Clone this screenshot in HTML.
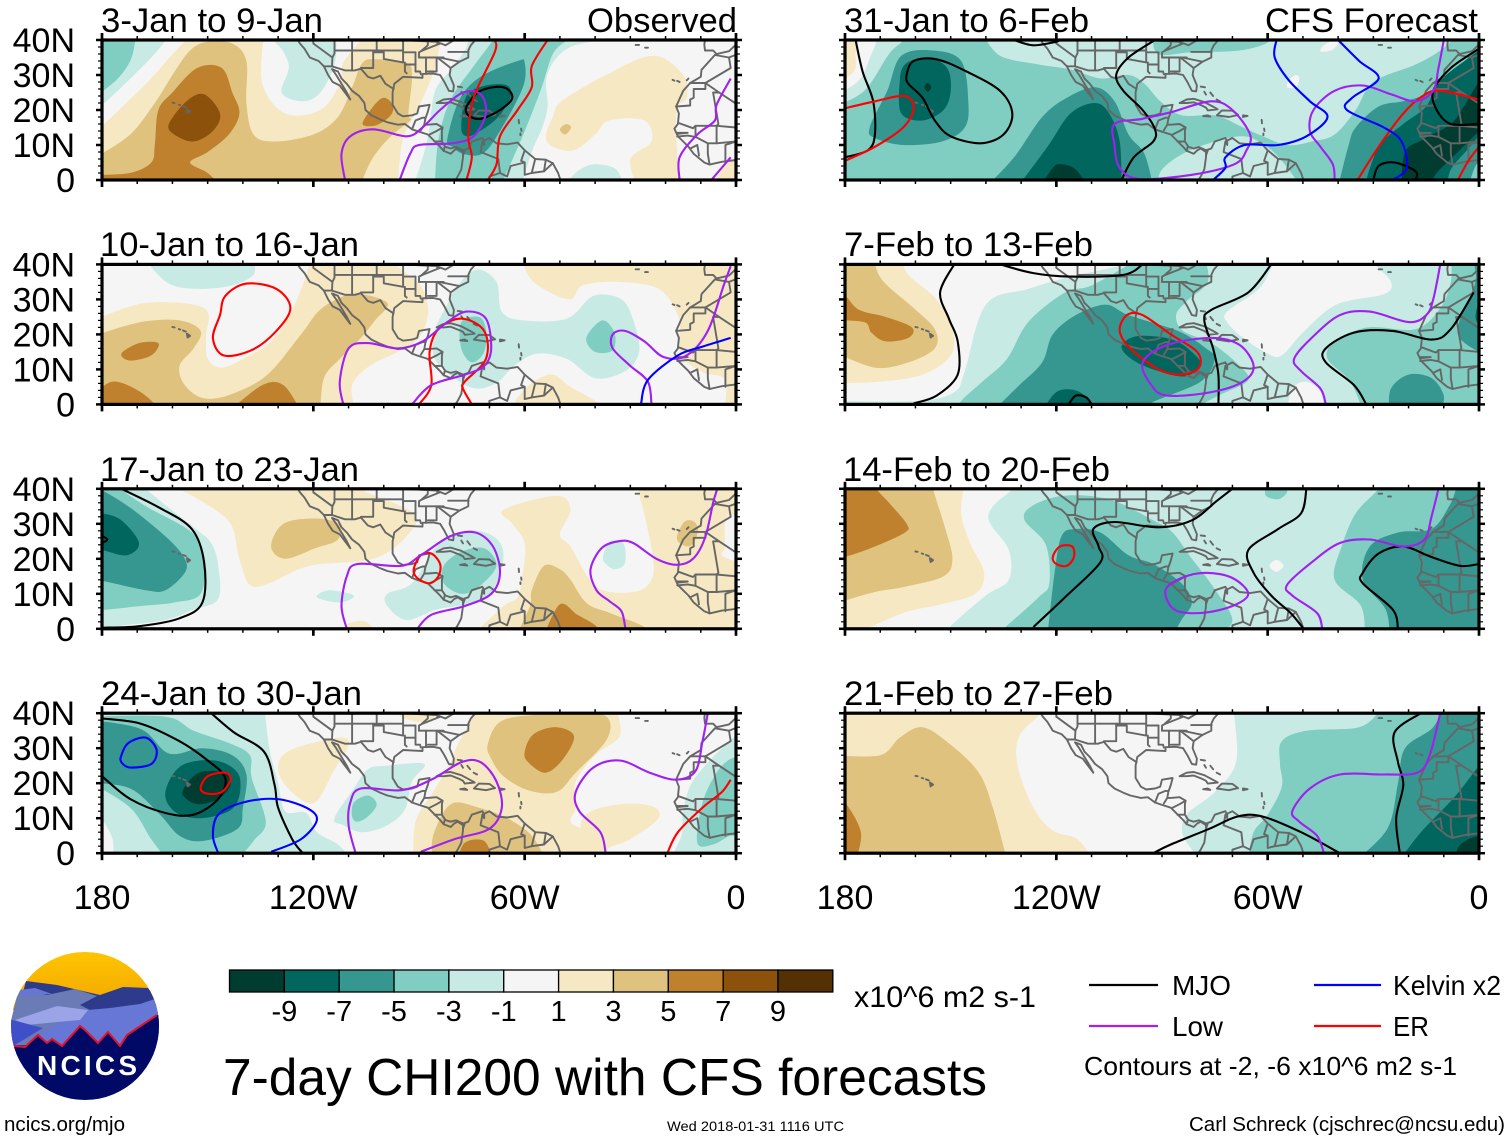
<!DOCTYPE html>
<html lang="en">
<head>
<meta charset="utf-8">
<title>7-day CHI200 with CFS forecasts</title>
<style>
html,body{margin:0;padding:0;background:#fff;}
svg{display:block;font-family:"Liberation Sans",sans-serif;fill:#000;}
</style>
</head>
<body>
<svg id="figure" xmlns="http://www.w3.org/2000/svg" width="1510" height="1141" viewBox="0 0 1510 1141">
  <rect width="1510" height="1141" fill="#fff"/>
  <g id="panels"></g>

  <text x="101" y="32" font-size="34.5" textLength="222" lengthAdjust="spacingAndGlyphs">3-Jan to 9-Jan</text>
  <text x="587" y="32" font-size="34.5" textLength="150" lengthAdjust="spacingAndGlyphs">Observed</text>
  <text x="100" y="256" font-size="34.5" textLength="259" lengthAdjust="spacingAndGlyphs">10-Jan to 16-Jan</text>
  <text x="100" y="481" font-size="34.5" textLength="259" lengthAdjust="spacingAndGlyphs">17-Jan to 23-Jan</text>
  <text x="101" y="705" font-size="34.5" textLength="261" lengthAdjust="spacingAndGlyphs">24-Jan to 30-Jan</text>
  <text x="844" y="32" font-size="34.5" textLength="245" lengthAdjust="spacingAndGlyphs">31-Jan to 6-Feb</text>
  <text x="1265" y="32" font-size="34.5" textLength="213" lengthAdjust="spacingAndGlyphs">CFS Forecast</text>
  <text x="844" y="256" font-size="34.5" textLength="249" lengthAdjust="spacingAndGlyphs">7-Feb to 13-Feb</text>
  <text x="843" y="481" font-size="34.5" textLength="267" lengthAdjust="spacingAndGlyphs">14-Feb to 20-Feb</text>
  <text x="844" y="705" font-size="34.5" textLength="269" lengthAdjust="spacingAndGlyphs">21-Feb to 27-Feb</text>

  <g id="colorbar"></g>
  <text x="854" y="1007" font-size="30" textLength="182" lengthAdjust="spacingAndGlyphs">x10^6 m2 s-1</text>

  <text x="223" y="1095" font-size="51.5" textLength="764" lengthAdjust="spacingAndGlyphs">7-day CHI200 with CFS forecasts</text>

  <g>
    <line x1="1089" x2="1158" y1="985" y2="985" stroke="#000" stroke-width="2.2"/>
    <text x="1172" y="995" font-size="28" textLength="59" lengthAdjust="spacingAndGlyphs">MJO</text>
    <line x1="1089" x2="1158" y1="1026" y2="1026" stroke="#a020f0" stroke-width="2.2"/>
    <text x="1172" y="1036" font-size="28" textLength="51" lengthAdjust="spacingAndGlyphs">Low</text>
    <line x1="1314" x2="1381" y1="985" y2="985" stroke="#0000ff" stroke-width="2.2"/>
    <text x="1393" y="995" font-size="28" textLength="108" lengthAdjust="spacingAndGlyphs">Kelvin x2</text>
    <line x1="1314" x2="1381" y1="1026" y2="1026" stroke="#ff0000" stroke-width="2.2"/>
    <text x="1393" y="1036" font-size="28" textLength="36" lengthAdjust="spacingAndGlyphs">ER</text>
    <text x="1084" y="1075" font-size="26" textLength="373" lengthAdjust="spacingAndGlyphs">Contours at -2, -6 x10^6 m2 s-1</text>
  </g>

  <g>
    <defs>
      <clipPath id="logoClip"><circle cx="85" cy="1026" r="74"/></clipPath>
      <linearGradient id="sunGrad" x1="0" y1="0" x2="0" y2="1"><stop offset="0" stop-color="#ffc600"/><stop offset="1" stop-color="#f2a500"/></linearGradient>
    </defs>
    <g clip-path="url(#logoClip)">
      <rect x="10" y="950" width="150" height="60" fill="url(#sunGrad)"/>
      <path d="M26,981 L57,985 L100,995 L123,987 L148,988 L165,1010 L165,1060 L5,1060 Z" fill="#2e3a8c"/>
      <path d="M18,992 L47,995 L75,989 L97,996 L80,1005 L90,1010 L60,1045 L5,1045 Z" fill="#6b7bb5"/>
      <path d="M19,990 L35,988 L52,994 L20,996 Z" fill="#6676d2"/>
      <path d="M88,1010 L110,1008 L140,1004 L158,998 L165,1060 L10,1060 L45,1030 Z" fill="#6777d6"/>
      <path d="M15,1020 L57,1006 L88,1010 L80,1020 L57,1022 L27,1025 Z" fill="#9aa4e6"/>
      <path d="M5,1018 L43,1028 L10,1048 Z" fill="#3f4fc8"/>
      <path d="M13,1046 L25,1047 L38,1035 L47,1043 L52,1039 L62,1046 L80,1026 L85,1030 L98,1043 L108,1032 L120,1046 L127,1035 L157,1015 L165,1015 L165,1105 L5,1105 L5,1046 Z" fill="#000a66"/>
      <path d="M13,1046 L25,1047 L38,1035 L47,1043 L52,1039 L62,1046 L80,1026 L85,1030 L98,1043 L108,1032 L120,1046 L127,1035 L157,1015" fill="none" stroke="#e8102a" stroke-width="2"/>
    </g>
    <text x="37" y="1075" font-size="28" font-weight="bold" fill="#fff" textLength="100" lengthAdjust="spacing" style="fill:#fff">NCICS</text>
  </g>

  <text x="4" y="1131" font-size="20.5" textLength="121" lengthAdjust="spacingAndGlyphs">ncics.org/mjo</text>
  <text x="667" y="1131" font-size="14" textLength="177" lengthAdjust="spacingAndGlyphs">Wed 2018-01-31 1116 UTC</text>
  <text x="1189" y="1131" font-size="20.5" textLength="316" lengthAdjust="spacingAndGlyphs">Carl Schreck (cjschrec@ncsu.edu)</text>
</svg>

<script>
// ---------- scale definition ----------
const levelBounds = [-9,-7,-5,-3,-1,1,3,5,7,9];
const levelColors = ['#003c30','#01665e','#35978f','#80cdc1','#c7eae5','#f5f5f5','#f6e8c3','#dfc27d','#bf812d','#8c510a','#543005'];
const latTicks = [40,30,20,10,0];
const latTickLabels = ['40N','30N','20N','10N','0'];
const lonTicks = [180,120,60,0];
const lonTickLabels = ['180','120W','60W','0'];
const colorbarLabels = ['-9','-7','-5','-3','-1','1','3','5','7','9'];

// ---------- filled anomaly regions: [anomaly value, [[deg west, deg north], ...]] ----------
const fills3Jan = [
 [-2,[[183,18.5],[174.5,26.5],[166,35],[161,41],[161,44],[184,44]]],
 [-4,[[183,23],[176,28.5],[172,34],[170.5,40],[170,44],[184,44]]],
 [2,[[181,14.5],[167.5,27.5],[158,38],[154,40],[134,41],[134.5,27.5],[128,19],[118,20],[112.5,27.5],[111.5,33.5],[106.5,40],[105,42],[84,42],[84,39],[86,30.5],[90,21],[94.5,12],[96,0],[97,-2],[181.5,-2]]],
 [-2,[[143,41],[132,40],[127,33],[129,25],[123,22.5],[118,25],[114,33],[113.5,41]]],
 [2,[[52,18],[49.5,22.5],[37,30],[23.5,35.5],[15,30],[14,23.5],[17,19],[16,-2],[28,-2],[30,6],[24,11],[26,17],[36,17],[40,13],[46,8.5],[52,9.5],[54,12.5]]],
 [2,[[6,-2],[3,5],[-2,6],[-2,-2]]],
 [4,[[181,7],[172,13],[165,22],[160,30],[155,37],[150,39.5],[143,39],[139,34],[139,22],[137,13],[131,11],[120,13],[113,18],[109,26.5],[106,33.5],[102,34.5],[93.5,33.5],[92,29.5],[93,19],[92.5,17],[98,12.5],[103,6.5],[106,0],[106,-2],[182,-2]]],
 [6,[[181,1.5],[172,2],[166,5],[165,10],[164,20],[160,25],[153,32],[146,32],[143,25],[141,19],[144,13],[150,8],[155,5],[150,2],[146,-2],[182,-2]]],
 [8,[[161,16],[156,22.5],[151,24.5],[146.5,19],[148.5,14],[154,11],[159.5,13]]],
 [6,[[106,16],[103,21],[100,23.5],[97.5,21.5],[98,18.5],[102,15.7]]],
 [4,[[50,14.5],[48.2,16],[46.8,15],[48.5,13]]],
 [-2,[[76,42],[76.5,38],[80.5,32],[85,26.5],[86.5,20],[87,15],[88.5,8],[91,0],[92,-2],[61,-2],[58,8],[55,15],[53.5,21],[53.5,30.5],[47,38],[33,40.5],[30,42]]],
 [-2,[[49,-2],[45,2.5],[40,4.5],[34,3],[32,-2]]],
 [-4,[[69,42],[69,40],[74.5,32.5],[81,23],[84.5,11.5],[85.5,-2],[67,-2],[61,11.5],[55.5,25.5],[52,36],[48,40],[47,42]]],
 [-6,[[82,11.5],[78.5,23],[72.5,29.5],[62,34],[60,33.5],[60.5,26.5],[67,14],[72,7.5],[77.5,7.5],[80.5,9.5]]],
 [-8,[[78,15],[76.5,24],[71,27],[65,27],[64,23.5],[68,17.5],[73.5,13.5],[76.5,12.5]]]
];
const fills10Jan = [
 [2,[[181,24.5],[167.5,29],[151,27.5],[150.5,19],[150,13],[146,10.5],[139,13.5],[132,18],[126.5,26],[122.5,35.5],[121,41],[100,42],[90.5,35],[88,30],[87.5,25.5],[90,19],[96,15],[104,11],[109,5.5],[108,-2],[182,-2]]],
 [2,[[61,42],[57.5,35],[47.5,30],[43.5,34],[33.5,35],[22,33],[16.5,25.5],[16,19],[15,13],[9,9],[3,7],[3.5,-2],[-2,-2],[-2,42]]],
 [2,[[64,-2],[62,2],[57.5,6.5],[52,8.5],[47,5],[40,1],[37,-2]]],
 [4,[[181,20],[169,23.5],[158,24],[152,21],[154,16],[158,11],[156.5,5.5],[151,1.7],[143,3],[133,8.5],[123.5,20],[117.5,27.5],[108.5,31.5],[99,29],[102.5,24],[106.5,19],[112.5,13],[117,7.5],[118,-2],[181,-2]]],
 [6,[[174.5,14.5],[169.5,17.5],[164,17.5],[166,14],[172,12.5]]],
 [6,[[183,-2],[183,2],[177,6.5],[169,3.5],[163,-2]]],
 [6,[[144,-2],[134.5,5.5],[128.5,5.5],[123.5,-2]]],
 [-2,[[167.5,41],[161,34.5],[152.5,33],[143,34],[137,37],[137,41]]],
 [-2,[[73.5,38.5],[68,35],[66.5,26.5],[60.5,24],[48,24.5],[40.5,31],[32.5,30],[29,23.5],[27.5,15],[31.5,9.5],[40,7.5],[48,13],[56.5,14.5],[63,11],[67.5,6.5],[73,4.5],[78.5,6.5],[85.5,13],[85.5,21],[82,28.5],[79,34]]],
 [-4,[[42.5,19],[38,24],[34.5,20.5],[35,15.5],[40,15]]],
 [-4,[[78,23.5],[73,25],[71,21.5],[71.5,15],[75,12],[78,16]]]
];
const fills17Jan = [
 [2,[[162,42],[151,36],[143.5,30],[141,20],[138,12.5],[132.5,13],[121,18],[103,20],[93.5,26.5],[91.5,33],[106,39.5],[108.5,42]]],
 [2,[[112,-2],[110,1.5],[105,2],[102,-2]]],
 [4,[[132,23.5],[128.5,30],[119.5,31.5],[113,30],[113,25.5],[119.5,23],[128,20]]],
 [2,[[66,34],[51,38],[47,34],[50,27],[47,23.5],[41.5,14],[36.8,10.7],[28,10.7],[24,14],[23.5,19.7],[25.4,30],[27.8,40],[27.8,43],[-2,43],[-2,-2],[75,-2],[66,6.5],[62,9],[60.5,16],[60,24.5],[63.5,30]]],
 [0,[[2.7,32],[3.2,23.5],[4,21],[0,19.2],[-2,19],[-2,32]]],
 [4,[[62.5,-2],[58.5,6.5],[58,11],[54.5,18],[50,17],[47,14],[42.4,7.3],[35.8,4.5],[26.3,0.7],[26,-2]]],
 [6,[[54.5,-2],[50,7],[45,4],[39.6,0.7],[39.5,-2]]],
 [4,[[16.5,27.3],[14.5,30.7],[12,30.7],[10.8,28.3],[12,24.5],[14,23.5],[16.5,25]]],
 [-2,[[37.7,21],[35.8,25],[32,24.5],[31.5,18.8],[34.4,17],[37.2,18.8]]],
 [-2,[[99,10],[92,13],[85,23.5],[77,28],[69,26.5],[66,21],[69,11],[74,7.5],[85,5.5],[93.5,2.5],[99,6.5]]],
 [-4,[[83,18],[78,22],[71.5,23],[68,18],[73,12],[78,10],[83,13]]],
 [-2,[[119,9],[115.5,11],[108.5,9.5],[112.5,7.5]]],
 [-2,[[183,-1],[175,0.8],[162,2.5],[154,5.5],[147,8.5],[147,18],[149,24.5],[154,29],[167.5,40],[168,43],[184,43]]],
 [-4,[[183,5],[169,6.5],[159.5,7.5],[152,10],[151,20],[154.5,27.5],[167.5,35],[174.5,40],[175,43],[184,43]]],
 [-6,[[183,14],[179,13.5],[167.5,11],[162,11],[156.5,16],[156.5,20],[161,25.5],[170.5,33.5],[178,38.5],[183,41]]],
 [-8,[[183,33],[180,33],[174.5,31],[169.5,24.5],[173,21],[180,22.5],[183,22.5]]]
];
const fills24Jan = [
 [-2,[[134,43],[132.5,30],[130,20],[128,12],[122,11.5],[119,6],[113,2.5],[109,-2],[184,-2],[184,43]]],
 [0,[[183,11],[180,9.5],[177,4],[177,-2],[183,-2]]],
 [-2,[[114,10],[108.5,18.5],[104.5,24],[99,25],[88.5,25.5],[92,20.5],[94,12.5],[99,8],[106,6],[111.5,8]]],
 [-4,[[109,10.5],[108.5,14.5],[104.5,16.5],[102,14],[104.5,10.5],[107.5,9]]],
 [-4,[[183,20],[172,13],[166,4],[161.5,-2],[141.5,-2],[137,3.5],[133.5,9],[137.5,21.5],[138,28],[144,31.5],[154,35],[162,39],[183,39]]],
 [-6,[[183,38],[169,35.5],[161,28.5],[151.5,30],[143,28],[139,22.5],[140,13],[141.5,7],[151.5,3.5],[158,5],[163.5,11],[172,18.5],[183,20]]],
 [-8,[[162,17.5],[157.5,25],[148,26.5],[141.5,23],[141,16.5],[144,12],[152.5,10],[159.5,12]]],
 [-10,[[157,18],[152.5,23],[145,23],[143.5,19.5],[147,15.5],[152.5,14],[156,15.5]]],
 [-2,[[19,-2],[15.5,5],[15,12],[12,21],[2,32],[-2,34],[-2,-2]]],
 [-4,[[11,3],[9.5,14.5],[5.5,23],[1.5,27],[-2,27],[-2,4],[1.5,5],[6.5,2.5]]],
 [2,[[34,41],[33,33.5],[40,28],[45.5,20.5],[45.5,13],[47,9],[43,6],[38.5,-2],[91.5,-2],[91,9],[86,17.5],[81,26],[79,31],[73.5,41]]],
 [2,[[42,11.5],[33,14],[24,13.5],[22,10],[30,4],[36,1.5],[38.5,-2],[44,6]]],
 [2,[[130,25],[126.5,29.5],[113,33],[110,31],[114.5,23],[118.5,15.5],[122,14.5],[128,19.5]]],
 [2,[[96,41],[95,39],[90,37.5],[86,38.5],[85,41]]],
 [4,[[70.5,31],[67,37.5],[57.5,39.5],[41,40],[36,38],[37,32],[45.5,23],[51,17.5],[59,18],[66,22],[69.5,27]]],
 [6,[[60,29],[57.5,34],[51,36],[46,33.5],[49,27],[54,23],[59,26]]],
 [4,[[86,5],[81,14],[73,13],[65,10],[58,5],[54,-2],[86,-2]]],
 [6,[[79,-2],[77,3],[71.5,3.5],[69,-2]]]
];
const fills31Jan = [
 [-2,[[183,21],[174.5,25.5],[167.5,36],[163.5,40],[163,44],[184,44]]],
 [0,[[183,24],[176,28.5],[172.5,36],[171,40],[171,44],[184,44]]],
 [2,[[183,27],[177.5,31],[177,36],[176.5,41],[176.5,44],[184,44]]],
 [-6,[[173,15],[168,25.5],[164,35.5],[155,37],[147,34],[145,22.5],[146,15],[152.5,11],[163.5,10],[171.5,12]]],
 [-8,[[164,19],[164.5,27.5],[163,33],[156.5,35],[151,32],[150,25.5],[152,20],[158,17]]],
 [-10,[[156.5,25.2],[155.5,26.5],[156.5,27.7],[157.5,26.5]]],
 [-2,[[141,42],[136,35.5],[125,33],[115.5,31.5],[107.5,29],[99.5,30],[95,27.5],[90.5,22.5],[84.5,18.5],[75,18.5],[68,15.5],[62.5,13],[54.5,10],[47.5,11],[41,13],[35,20],[30,28],[18,33],[11,37],[5.5,42]]],
 [-4,[[91.2,36],[81.6,36.5],[68,37],[60,39.3],[60,42],[92.5,42]]],
 [-2,[[91,-2],[90,3],[82,8.5],[68,12.5],[61,10],[56,5.5],[50.5,-2]]],
 [0,[[45,36.8],[42,37],[40,39],[41,40],[44,38.5]]],
 [0,[[54.5,26.5],[52,26.5],[51,29],[52,30],[54,28.5]]],
 [-6,[[140,-2],[132,6.5],[124,18],[117,23.5],[109,26.5],[103.5,22.5],[99.5,13],[95,7.5],[92.5,-2]]],
 [-8,[[131,-2],[122.5,9.5],[116,19],[109,22],[105,19],[102,11],[101.5,-2]]],
 [-10,[[124.5,-2],[121,3.5],[118.5,4.5],[114.5,3],[111,-2]]],
 [-6,[[40,-2],[37,10],[35,15],[28.5,21],[21.5,22.5],[15,24.5],[9.5,29],[3,35],[-2,40],[-2,-2]]],
 [-8,[[32.5,-2],[28.5,9.5],[21.5,16],[15,21],[11,28.5],[0,37],[-2,39],[-2,15],[3,9],[8,3],[9,-2]]],
 [-10,[[22,-2],[21,8],[16,11.5],[8,16],[4,21.5],[0,28],[-2,28],[-2,16],[6,8],[12,2],[14,-2]]],
 [-4,[[3,-2],[1,4],[-2,7],[-2,-2]]]
];
const fills7Feb = [
 [2,[[183,6],[170,6.5],[158,8.5],[150,14],[149.5,21.5],[154,30],[162,37],[164,42],[184,42]]],
 [4,[[183,15],[171.5,10.5],[162,12],[154.5,16],[154.5,21.5],[160.5,27.5],[169,35],[171.5,40],[172,43],[184,43]]],
 [6,[[183,31],[180,31],[176,27],[168.5,25],[161,22],[162,19],[168.5,18],[172.5,20.5],[174.5,23.5],[183,24]]],
 [-2,[[183,-2],[181,1],[159,1],[149,3.5],[146,9.5],[140,28.5],[128,33],[116,36.5],[101,40],[100,43],[-2,43],[-2,-2]]],
 [0,[[58,42],[29.5,42],[29.5,40],[25,35],[27,31.5],[40.5,28.5],[50,20.5],[56,14],[60,14.5],[67,19],[71.5,23.5],[71.5,26.5],[62.5,33],[59,39]]],
 [0,[[54.5,-2],[53,4.5],[49,6.5],[45,3.5],[44,-2]]],
 [-4,[[148,-2],[147,1],[141,6.5],[134,13],[128,23.5],[117.5,32],[110,34],[96,42],[78,42],[77,35],[83,29.5],[86,25.5],[84,21],[76,17.5],[69,12],[65.5,7],[73,3],[79,0],[84,-2]]],
 [-6,[[136,0],[130.5,5.5],[124,12],[121,20],[114.5,25.5],[106,28.5],[99.5,25.5],[85.5,21],[77.5,16],[75,13],[79,6.5],[92.5,0.7],[95,-2],[137,-2]]],
 [-8,[[124,-2],[120,3.5],[114.5,4],[110,0.7],[109.5,-2]]],
 [-8,[[101.5,16.5],[97,19.5],[87,18.5],[81,14.5],[79,11],[83.5,8],[91,9.5],[98,12.5]]],
 [-4,[[33,-2],[36.5,6.5],[43,13],[41,18],[31.5,22],[18,21.5],[11,27.5],[8,35],[8,42],[-2,42],[-2,-2]]],
 [-6,[[25,4.5],[20,8.5],[13.5,7.5],[10,2.5],[11,-2],[25.5,-2]]],
 [-6,[[2,42],[1,35],[5.5,24],[5.5,19],[0,15],[-2,15],[-2,42]]],
 [-8,[[0,29],[1,25],[0,23],[-2,23],[-2,29]]]
];
const fills14Feb = [
 [0,[[132.5,43],[132.5,40],[138,35],[139,30.5],[133.5,22.5],[133.5,14],[140,9.5],[150,0.8],[151,-2],[184,-2],[184,43]]],
 [2,[[178,-2],[163.5,4.5],[152.5,7],[143,10],[140.5,16],[144.5,24.5],[147,33],[146,42],[184,42],[184,-2]]],
 [4,[[183,6],[180,8],[171.5,10.5],[163,12],[152,15],[149.5,20],[151.5,28.5],[155,40],[155,43],[184,43]]],
 [6,[[183,20],[180,20.5],[171.5,23.5],[163,27.5],[162.5,30],[167.5,36],[171,40],[171,43],[184,43]]],
 [-4,[[137,-2],[135,0],[125,9],[122,13],[123,24],[129,31],[127,35],[118,38],[105,37],[92.5,31],[87,27.5],[81.5,20],[75.5,12],[70,2.5],[75,-2]]],
 [-6,[[122.5,-2],[120.5,16],[118.5,26.5],[114.5,28.5],[107.5,27.5],[99.5,21],[92.5,18.5],[84.5,13],[81.5,7.5],[84.5,2.5],[87,-2]]],
 [-4,[[60.5,38],[57,37],[54.5,39],[55,41],[60.5,41]]],
 [0,[[59.5,18],[57.5,19.7],[55.5,18],[57.5,16.3]]],
 [-4,[[32.5,-2],[33.5,6.5],[41,14],[39,23.5],[35,33],[28.5,40],[28,43],[-2,43],[-2,-2]]],
 [-6,[[25.5,-2],[26.5,5.5],[33,14],[31,23.5],[23,27.5],[13.5,28.5],[8.5,35],[6.5,40],[6,43],[-2,43],[-2,-2]]]
];
const fills21Feb = [
 [2,[[124.5,43],[124.5,40],[130.5,33.5],[131,25],[126.5,13],[121,6.5],[114,4],[109.5,-2],[184,-2],[184,43]]],
 [4,[[183,28],[170,28],[164.5,33],[158,36],[150,31],[142,23],[138,13],[134,-2],[184,-2]]],
 [6,[[183,15],[180,14.5],[175.5,6],[177,-2],[183,-2]]],
 [-2,[[69.5,43],[69.5,40],[69,26],[75,17.5],[83,11],[84,5],[79,-2],[-2,-2],[-2,43]]],
 [-4,[[28.5,43],[28.5,40.5],[34,36],[49,35],[56,32],[56.5,25.5],[56,19],[60,11],[64,6],[65.5,-2],[-2,-2],[-2,43]]],
 [-6,[[35,-2],[26,7],[23,20],[21,30],[13,36],[10,43],[-2,43],[-2,-2]]],
 [-8,[[22.5,-2],[16.5,6],[7,16],[0,25],[-2,27],[-2,-2]]],
 [-10,[[6.5,-2],[6,1.5],[3,4],[-2,5.5],[-2,-2]]]
];

// ---------- index contours (MJO, Low, Kelvin, ER) in [deg west, deg north] ----------
const lines3Jan = [
 {wave:'MJO',closed:true,pts:[[76.5,21],[72.5,25.5],[66,26.5],[63.5,23.5],[67,20],[72.5,17.5],[76,18.5]]},
 {wave:'Low',pts:[[111,0],[112,7.5],[109.5,12.5],[103,14.5],[93.5,12.5],[89,15],[84,20],[77.5,25],[72.5,24.5],[71,19],[74.5,12.5],[80.5,10.5],[90,10],[92.5,7.5],[95.5,0]]},
 {wave:'Low',pts:[[16,0],[16,6.5],[11,13],[6,17],[5.5,21.5],[1.5,29]]},
 {wave:'Low',pts:[[7,0],[1.5,6.5]]},
 {wave:'ER',pts:[[68.5,40],[68.5,36.5],[74.5,23.5],[76,12.5],[75,6.5],[76.5,0]]},
 {wave:'ER',pts:[[53.5,40],[58,32.5],[58,26.5],[62,20],[67,12.5],[68,4.5],[70.5,0]]}
];
const lines10Jan = [
 {wave:'ER',closed:true,pts:[[145,31],[139,34.5],[130.5,33],[126.5,27.5],[130.5,21],[137.5,15.5],[145.5,14],[148.5,19],[146.5,25.5]]},
 {wave:'ER',pts:[[90,0],[86.5,5.5],[87,15],[84.5,21.5],[78,24.5],[71.5,21],[71,13],[77,6.5],[77.5,4.5],[75,0]]},
 {wave:'Low',pts:[[111.5,0],[112.5,6.5],[110,16],[104.5,17.5],[96,16],[89,18],[82,23.5],[76.5,26.5],[71,24.5],[69.5,16],[71.5,11],[77,8.5],[86.5,5.5],[92,0]]},
 {wave:'Low',pts:[[24,0],[25,6.5],[30,11],[35,16],[35,20],[31.5,21],[26,18],[20.5,13.5],[14,14],[8,21],[3.5,34],[1.5,39.5]]},
 {wave:'Kelvin',pts:[[27,0],[25,7],[16.5,14],[9.5,16.5],[1.5,19]]}
];
const lines17Jan = [
 {wave:'MJO',pts:[[180,0.3],[169,0.8],[158,3],[151.5,7.5],[151,19],[154.5,28.5],[163.5,34.5],[174.5,40]]},
 {wave:'MJO',pts:[[180,26.5],[178.5,25.5],[180,24.5]]},
 {wave:'ER',closed:true,pts:[[91.5,17],[89.5,21],[86.5,21.5],[84,18.5],[84.5,15],[87,13],[90.5,14.5]]},
 {wave:'Low',pts:[[110.5,0],[112,6.5],[110.5,15],[107.5,18.5],[95,18],[89.5,21],[81,26.5],[74,27.5],[69,23.5],[67,16],[69.5,10],[77,6.5],[86.5,4],[90.5,0]]},
 {wave:'Low',pts:[[31.4,0],[32.5,5],[35.8,7.8],[39.6,11],[41.3,16.9],[38.2,23],[33.4,25],[29.2,24.5],[22.6,20],[16.9,18.3],[12.2,20],[8.8,26],[6.5,36],[5.3,40]]}
];
const lines24Jan = [
 {wave:'MJO',pts:[[180,38.5],[169,37],[158,32],[150,26.5],[145,21.5],[147,15.5],[154,11],[162,11.5],[172,15.5],[180,22]]},
 {wave:'MJO',pts:[[149,40],[142.5,34.5],[134,29],[131,19.5],[130,13],[126,4],[123,0]]},
 {wave:'ER',closed:true,pts:[[152,18.5],[150,22],[145,23],[143.5,21],[146,17.5],[150,17]]},
 {wave:'ER',pts:[[19.5,0],[16.5,6],[9.5,13],[4,17.5],[1.5,21]]},
 {wave:'Kelvin',closed:true,pts:[[174.5,28],[172.5,31.5],[167.5,33],[164.5,29.5],[166,25.5],[172,24.5],[174.5,26]]},
 {wave:'Kelvin',pts:[[147,0],[148.5,5],[147,11],[140,14.5],[130.5,15.5],[122,13],[119,9.5],[123.5,4],[132,0.4]]},
 {wave:'Low',pts:[[108,0],[110,8],[109.5,14.5],[106.5,18.5],[95,18],[86.5,21],[78,26],[72.5,26],[68,20.5],[66.5,13],[70,7],[80,4],[89.5,0.4]]},
 {wave:'Low',pts:[[37,0],[38.5,6],[44.5,12],[45.5,17.5],[40.5,24.5],[33,26.5],[24.5,23],[17,21],[11.5,23.5],[9.5,32],[8,40]]}
];
const lines31Jan = [
 {wave:'MJO',pts:[[177,40],[175,31],[172,22.5],[171.5,13],[173.5,8.5],[180,6.5]]},
 {wave:'MJO',closed:true,pts:[[162.5,30],[160.5,34],[154,34.5],[145.5,31],[136,25.5],[132.5,19],[135,13],[141.5,10.5],[150,12.5],[154.5,17],[158,23.5],[162,27.5]]},
 {wave:'MJO',pts:[[132,40],[126.5,38.5],[120,39.5],[119.5,40]]},
 {wave:'MJO',pts:[[92,40],[99.5,35],[103,30],[101,25.5],[95.5,20],[92,14.5],[92.5,11],[98,6.5],[101.5,0]]},
 {wave:'MJO',pts:[[30,0],[28.5,4],[24,5],[18,2.5],[18,0]]},
 {wave:'MJO',pts:[[0,37.5],[8,32],[13,25.5],[12,20],[8,16],[0,16]]},
 {wave:'ER',pts:[[180,20.5],[171.5,22.5],[163,24],[160.5,20.5],[163.5,15],[171.5,9.5],[180,5.5]]},
 {wave:'ER',pts:[[34.5,0],[28.5,9.5],[21.5,19],[16,24],[11,25.5],[0,23]]},
 {wave:'ER',pts:[[6,0],[3,5.5],[0,9.5]]},
 {wave:'Low',closed:true,pts:[[103.5,16],[95.5,17.5],[87,19.5],[76,22.5],[70,20],[65,13],[66,8.5],[69.5,4.5],[81.5,1.5],[96.5,0.3],[102,3.5],[103.5,10]]},
 {wave:'Low',pts:[[41,0],[41.5,4.5],[45,9.5],[48,14],[47,20],[41,25.5],[33,27],[25,24.5],[18,22.5],[13,25.5],[11.5,32],[10,40]]},
 {wave:'Kelvin',pts:[[75.5,0],[72,3.5],[72,6.5],[66.5,10],[57,10],[49,12.5],[43,18],[48,22.5],[54,28.5],[58,35],[57.5,40]]},
 {wave:'Kelvin',pts:[[24.5,0],[20.5,3.5],[22,11],[27,15],[37.5,20],[36,23.5],[28.5,29],[34,34],[40,40]]}
];
const lines7Feb = [
 {wave:'MJO',pts:[[160.5,0.3],[154,2.5],[148,8.5],[148,18],[150.5,24.5],[153,32],[149,40]]},
 {wave:'MJO',pts:[[136,40],[126.5,37.5],[116,36.5],[101,37],[95.5,40]]},
 {wave:'MJO',pts:[[116.5,0],[114.5,2.5],[111.5,2],[110,0]]},
 {wave:'MJO',pts:[[59,40],[65.5,32],[76,27],[78,24],[75.5,16],[74,8.5],[74,0]]},
 {wave:'MJO',pts:[[32,0],[35.5,5.5],[43.5,12],[43.5,16],[35.5,20.5],[24.5,21],[13.5,18.5],[8,21.5],[1.5,32]]},
 {wave:'ER',closed:true,pts:[[102,21],[100,25.5],[95.5,25.5],[87.5,20],[80,15],[79.5,10.5],[84.5,8.5],[91,10],[99,16]]},
 {wave:'Low',closed:true,pts:[[95.5,12],[88.5,17],[76,19],[68,17],[64,11],[67,6.5],[76,3.5],[88.5,2.5],[93,5.5]]},
 {wave:'Low',pts:[[43.5,0],[45,4.5],[50.5,9.5],[52.5,13],[47.5,19],[39.5,25.5],[31,26.5],[20,23.5],[15,25.5],[13,30],[11,40]]}
];
const lines14Feb = [
 {wave:'MJO',pts:[[126.5,0.5],[117,9.5],[107.5,19],[108,23.5],[109.5,28.5],[103.5,30.5],[91,29],[81.5,31],[74.5,36.5],[70,40]]},
 {wave:'MJO',pts:[[49,40],[50.5,33],[57,28.5],[65.5,22.5],[64,16],[59,9.5],[53.5,4.5],[50,0.3]]},
 {wave:'MJO',pts:[[23,0],[24.5,5.5],[33,13],[33,16],[28.5,21.5],[21.5,23.5],[13.5,20.5],[5.5,18],[0,18.5]]},
 {wave:'ER',closed:true,pts:[[121,20.5],[119,23.5],[115.5,23.5],[115,20.5],[117,18],[120,18.5]]},
 {wave:'Low',closed:true,pts:[[89,11],[84.5,14.5],[77.5,16],[70,14.5],[65.5,10],[70,6.5],[79,4.5],[86.5,5.5]]},
 {wave:'Low',pts:[[44.5,0],[46,4.5],[53,9.5],[54.5,12.5],[47.5,19],[39.5,24.5],[31,25.5],[21.5,23.5],[15.5,25.5],[13.5,32],[11.5,40]]}
];
const lines21Feb = [
 {wave:'MJO',pts:[[16.5,40],[24,34.5],[23,26],[21.5,19.5],[23.5,10],[22.5,0]]},
 {wave:'MJO',pts:[[92.5,0],[87.5,2.5],[76.5,7],[68.5,10.5],[61.5,10.5],[50.5,6],[39.5,0]]},
 {wave:'Low',pts:[[44,0],[46,5],[51,9],[53,12],[48,18.5],[39.5,22.5],[27,22.5],[17.5,23],[14,28],[11,40]]}
];

const panelNames = ['3-jan','10-jan','17-jan','24-jan','31-jan','7-feb','14-feb','21-feb'];
const panelBackgrounds = [0,0,0,0,-4,0,-2,0];
const panelFills = [fills3Jan,fills10Jan,fills17Jan,fills24Jan,fills31Jan,fills7Feb,fills14Feb,fills21Feb];
const panelLines = [lines3Jan,lines10Jan,lines17Jan,lines24Jan,lines31Jan,lines7Feb,lines14Feb,lines21Feb];

// ---------- reference map: [deg west, deg north] polylines ----------
const coastlines = [
 [[124.4,40],[123.8,39],[122.5,37.5],[121,35],[118.5,34],[117,32.5],[115.8,30],[114.5,28],[112.5,27],[111,25],[109.5,23],[110.5,25],[112,27.5],[113.5,30],[114.7,31.7],[113,31],[112,29],[110.5,27.5],[109,25.5],[107,24],[105.5,22],[105.2,20],[103.5,18.5],[101,17.3],[99,16.5],[96,15.8],[94,16],[92,14.5],[90,13.8],[87.5,13],[85.5,11],[84,9.5],[83,8.3],[81,7.5],[80,8.5],[79,9],[77.5,8],[77.5,6.5],[78,3],[79,1],[80,-0.5]],
 [[77.5,8.5],[79.5,9.4],[81,9],[82.5,9.5],[83.5,11],[83.5,14],[83.3,15],[85,16],[87.5,15.8],[88.5,15.8],[88.2,17.5],[87.5,19.5],[87,21.5],[90,21],[90.5,19],[92,18.5],[94.5,18.2],[96,19],[97.5,21.5],[97.5,25],[97,27.5],[94.5,29.5],[91,29.3],[89,29.2],[89,30.3],[86,30.4],[84,30],[82.8,28],[81.5,25.5],[80.3,25.3],[80.1,27],[81.3,30],[81,32],[78.5,33.8],[76,35],[76,37],[75.3,38.5],[74,40]],
 [[77.5,8.5],[76,9],[75,11],[72,12],[71.5,11],[71.5,10],[72,11],[70,12],[68,10.5],[65,10.2],[62,10.7],[60,8.5],[57,6],[54,5.8],[52,4.8],[50.5,2],[50,0.5],[49.5,-1]],
 [[85,22],[83,23],[81,23.2],[78,22.3],[75,20.7],[74.2,20.2],[77,19.9],[77.5,20.7],[78.5,21.2],[81,22.2],[83,22],[85,22]],
 [[74.4,18.5],[73,19.9],[70,19.8],[68.4,18.6],[71,18],[74.4,18.5]],
 [[78.3,18.3],[76.3,18.1],[77,18.5],[78.3,18.3]],
 [[67,18],[65.7,18.3],[67,18.5],[67,18]],
 [[79,26.7],[77.8,26.5]],[[78,25.2],[77.5,24.4]],[[76.3,25],[75.5,24]],[[74.5,23],[73.5,22.5]],
 [[61.7,17.2],[61.6,16.2]],[[61,14.7],[60.9,14]],[[61.2,13.3],[61.2,12.8]],
 [[160,22.1],[159.4,22]],[[158.2,21.5],[157.8,21.4]],[[157,21.1],[156.2,20.8]],[[155.9,20.2],[155,19.6],[155.7,19.1],[155.9,20.2]],
 [[18,28.6],[17.5,28.4]],[[16.7,28.3],[16,28]],[[14,28.5],[13.5,29]],
 [[28.5,38.6],[27.5,38.6]],[[25.8,37.8],[25,37.8]],
 [[6,35.7],[9.8,31.5],[10,29.5],[13,27.7],[15,25.5],[17,21],[16.2,19],[16.5,16],[17.5,14.7],[16.5,12.5],[15,11],[13.5,9.5],[12,7.5],[9,5],[7.5,4.4],[4,5.2],[0,5.7]],
 [[8.8,40],[9,38.7],[8.8,37],[6.5,37],[5.5,36],[2,36.8],[0,38.7],[0,40]],
 [[6,35.7],[2,35],[0,35.8]]
];
const borders = [
 [[117,32.5],[114.7,32.5],[111,31.3],[108.2,31.3],[106.5,31.8],[104.5,29.5],[103,29],[101,29.8],[99.5,27.5],[97.2,26]],
 [[120,40],[120,39],[114.6,35],[114.7,32.6]],
 [[114,40],[114,36.2],[114.6,35]],[[114,37],[94.6,37]],[[109,40],[109,31.3]],[[103,37],[103,32],[106.5,32]],
 [[111,40],[111,41]],[[102,40],[102,37]],[[103,36.5],[100,36.5],[100,34.6],[94.5,33.6]],[[94.5,40],[94.5,33.6]],
 [[94,33.6],[94,31],[93.5,30.5]],[[91,33],[94,33]],[[91,36.5],[94.5,36.5]],[[90,35],[90,36.5],[89,37],[84,39]],
 [[88,35],[88,30.3]],[[85,35],[85,31],[87.5,31]],[[91,36.5],[91,31],[89.7,31],[89.5,30.2]],[[90,35],[83,35]],
 [[84.8,35],[81,32]],[[84.3,35],[78.5,33.8]],[[81.7,36.6],[75.9,36.6]],[[95,40],[85,39.5],[82.5,38.5],[80,40]],[[89.2,37],[87.5,38.5],[87.5,41]],[[84.8,39],[84.8,41]],
 [[92,14.5],[91,17],[89,17.8],[88.2,17.8]],[[89.5,14.2],[88.5,15.8]],[[87,13],[85,14],[83.3,15]],[[85.6,11],[83.7,11]],[[83,8.3],[82.7,9.5]],
 [[72,11],[72.5,8],[70,7],[67.5,6],[67,2],[70,1],[70,-2]],[[77.5,7],[77,8.5]],[[60,8.5],[61,5.5],[60,5],[60,1.5],[58,2],[54.5,2.5],[52,4.8]],[[57,6],[58,2]],[[54,5.8],[54.5,2.5]],[[60,5],[64,4],[65,1],[67,2]],
 [[13,27.7],[8.7,27.7],[8.7,26],[12,26],[12,23.5],[13,23],[13,21.3],[17,21]],
 [[8.7,27.7],[4.8,25],[6.5,25],[5,16],[5.5,15.5],[11.5,15.5],[12.2,14.8],[16.3,16.3]],
 [[4.8,25],[0,21.8]],[[5.5,15.5],[0,15]],[[16.7,13.5],[13.7,13.5],[15.5,13.3],[16.7,13.2]],[[11.5,12.3],[13.7,12.7],[16.7,12.4]],[[11.5,15.5],[11.5,12.3],[8,10.5],[5.5,10.5],[5.5,15.5]],
 [[8,10.5],[8,7.5],[7.5,4.4]],[[13,9],[11,10],[10.5,7]],[[3,5],[3,10],[0,11],[5.5,10.5]],[[0,5.7],[0,11]],[[2,35],[1.5,32],[8.7,27.7]]
];

// ---------- axis functions ----------
const PANEL_W = 634, PANEL_H = 140;
function panelLeft(i){ return i < 4 ? 102 : 845; }
function panelTop(i){ return 40 + 224.4 * (i % 4); }
function xAt(i, lonW){ return panelLeft(i) + (180 - lonW) / 180 * PANEL_W; }
function yAt(i, lat){ return panelTop(i) + (40 - lat) / 40 * PANEL_H; }
function levelColor(v){
  let k = 0;
  while (k < levelBounds.length && v > levelBounds[k]) k++;
  return levelColors[k];
}
function waveColor(w){
  if (w === 'MJO') return '#000000';
  if (w === 'Low') return '#a020f0';
  if (w === 'Kelvin') return '#0000ff';
  return '#ff0000';
}
function isOutside(p){ return p[0] > 180 || p[0] < 0 || p[1] > 40 || p[1] < 0; }
function smoothPath(i, pts, closed){
  const n = pts.length;
  const P = pts.map(function(p){ return [xAt(i, p[0]), yAt(i, p[1])]; });
  const idx = function(k){ return closed ? (k + n) % n : Math.max(0, Math.min(n - 1, k)); };
  let d = 'M' + P[0][0].toFixed(1) + ',' + P[0][1].toFixed(1);
  const segs = closed ? n : n - 1;
  for (let k = 0; k < segs; k++) {
    const a = idx(k - 1), b = idx(k), c = idx(k + 1), e = idx(k + 2);
    const t1 = isOutside(pts[b]) ? [0,0] : [(P[c][0] - P[a][0]) / 6, (P[c][1] - P[a][1]) / 6];
    const t2 = isOutside(pts[c]) ? [0,0] : [(P[e][0] - P[b][0]) / 6, (P[e][1] - P[b][1]) / 6];
    d += 'C' + (P[b][0] + t1[0]).toFixed(1) + ',' + (P[b][1] + t1[1]).toFixed(1) + ' ' +
         (P[c][0] - t2[0]).toFixed(1) + ',' + (P[c][1] - t2[1]).toFixed(1) + ' ' +
         P[c][0].toFixed(1) + ',' + P[c][1].toFixed(1);
  }
  return d + (closed ? 'Z' : '');
}
function straightPath(i, pts){
  return 'M' + pts.map(function(p){ return xAt(i, p[0]).toFixed(1) + ',' + yAt(i, p[1]).toFixed(1); }).join('L');
}
const NS = 'http://www.w3.org/2000/svg';
function make(tag, parent){
  const node = document.createElementNS(NS, tag);
  parent.appendChild(node);
  return node;
}
function tick(parent, x1, y1, x2, y2, w){
  const t = make('line', parent);
  t.setAttribute('x1', x1); t.setAttribute('y1', y1);
  t.setAttribute('x2', x2); t.setAttribute('y2', y2);
  t.setAttribute('stroke', '#000');
  t.setAttribute('stroke-width', w);
  
  
}

// ---------- draw panels ----------
const panelsRoot = document.getElementById('panels');
const defs = make('defs', panelsRoot);
panelNames.forEach(function(name, i){
  const L = panelLeft(i), T = panelTop(i);
  const clip = make('clipPath', defs);
  clip.setAttribute('id', 'clip' + i);
  const cr = make('rect', clip);
  cr.setAttribute('x', L); cr.setAttribute('y', T);
  cr.setAttribute('width', PANEL_W); cr.setAttribute('height', PANEL_H);

  const g = make('g', panelsRoot);
  
  

  const plot = make('g', g);
  plot.setAttribute('clip-path', 'url(#clip' + i + ')');

  const bg = make('rect', plot);
  bg.setAttribute('x', L); bg.setAttribute('y', T);
  bg.setAttribute('width', PANEL_W); bg.setAttribute('height', PANEL_H);
  bg.setAttribute('fill', levelColor(panelBackgrounds[i]));
  
  

  panelFills[i].forEach(function(f){
    const p = make('path', plot);
    p.setAttribute('d', smoothPath(i, f[1], true));
    p.setAttribute('fill', levelColor(f[0]));
    
    
  });

  const map = make('g', plot);
  
  
  coastlines.concat(borders).forEach(function(c){
    const p = make('path', map);
    p.setAttribute('d', straightPath(i, c));
    p.setAttribute('fill', 'none');
    p.setAttribute('stroke', '#666');
    p.setAttribute('stroke-width', '1.9');
    p.setAttribute('stroke-linejoin', 'round');
    p.setAttribute('stroke-linecap', 'round');
    
    
  });

  panelLines[i].forEach(function(c){
    const p = make('path', plot);
    p.setAttribute('d', smoothPath(i, c.pts, !!c.closed));
    p.setAttribute('fill', 'none');
    p.setAttribute('stroke', waveColor(c.wave));
    p.setAttribute('stroke-width', '2.1');
    
    
  });

  const frame = make('rect', g);
  frame.setAttribute('x', L); frame.setAttribute('y', T);
  frame.setAttribute('width', PANEL_W); frame.setAttribute('height', PANEL_H);
  frame.setAttribute('fill', 'none');
  frame.setAttribute('stroke', '#000');
  frame.setAttribute('stroke-width', '3.2');
  
  

  for (let lon = 0; lon <= 180; lon += 10) {
    const x = xAt(i, lon);
    const major = lon % 60 === 0;
    const len = major ? 7 : 4;
    const w = major ? 2.7 : 1.5;
    tick(g, x, T, x, T - len, w);
    tick(g, x, T + PANEL_H, x, T + PANEL_H + len, w);
  }
  for (let lat = 0; lat <= 40; lat += 2) {
    const y = yAt(i, lat);
    const major = lat % 10 === 0;
    const len = major ? 6 : 4;
    const w = major ? 2.5 : 1.2;
    tick(g, L, y, L - len, y, w);
    tick(g, L + PANEL_W, y, L + PANEL_W + len, y, w);
  }

  if (i < 4) {
    latTicks.forEach(function(v, k){
      const t = make('text', g);
      t.setAttribute('x', 75);
      t.setAttribute('y', yAt(i, v) + 12);
      t.setAttribute('font-size', '34');
      t.setAttribute('text-anchor', 'end');
      
      
      t.textContent = latTickLabels[k];
    });
  }
  if (i % 4 === 3) {
    lonTicks.forEach(function(v, k){
      const t = make('text', g);
      t.setAttribute('x', xAt(i, v));
      t.setAttribute('y', 909);
      t.setAttribute('font-size', '34');
      t.setAttribute('text-anchor', 'middle');
      
      
      t.textContent = lonTickLabels[k];
    });
  }
});

// ---------- colorbar ----------
const cb = document.getElementById('colorbar');
const CB_L = 229.5, CB_W = 54.85, CB_T = 970, CB_H = 22;
levelColors.forEach(function(col, k){
  const r = make('rect', cb);
  r.setAttribute('x', CB_L + k * CB_W);
  r.setAttribute('y', CB_T);
  r.setAttribute('width', CB_W);
  r.setAttribute('height', CB_H);
  r.setAttribute('fill', col);
  r.setAttribute('stroke', '#000');
  r.setAttribute('stroke-width', '1.3');
  
  
});
colorbarLabels.forEach(function(lab, k){
  const t = make('text', cb);
  t.setAttribute('x', CB_L + (k + 1) * CB_W);
  t.setAttribute('y', 1021);
  t.setAttribute('font-size', '29');
  t.setAttribute('text-anchor', 'middle');
  
  
  t.textContent = lab;
});
</script>
</body>
</html>
